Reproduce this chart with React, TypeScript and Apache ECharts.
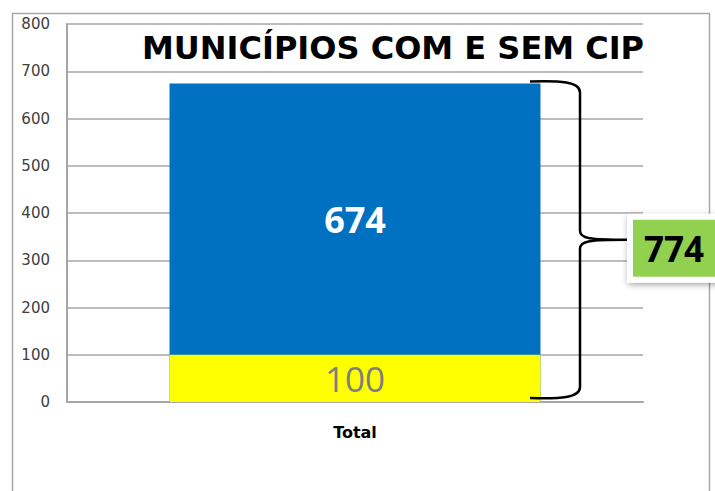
import React, { useEffect, useRef } from "react";
import * as echarts from "echarts";

const categories = ["Total"];
const comCip = [674];
const semCip = [100];
const titleText = "MUNICÍPIOS COM E SEM CIP";
const yMin = 0;
const yMax = 800;
const yStep = 100;

export default function App() {
  const ref = useRef<HTMLDivElement>(null);
  useEffect(() => {
    if (!ref.current) return;
    const chart = echarts.init(ref.current, null, { renderer: "svg" });
    const total = comCip[0] + semCip[0];
    const blueLabelFrac = ((comCip[0] - semCip[0]) / 2 / comCip[0]) * 100;
    const gridColor = "#a6a6a6";
    chart.setOption({
      animation: false,
      backgroundColor: "#ffffff",
      title: {
        text: titleText,
        left: 137,
        top: 27,
        textStyle: {
          fontFamily: "DejaVu Sans",
          fontWeight: "bold",
          fontSize: 32,
          color: "#000",
        },
      },
      grid: { left: 67, right: 72, top: 24, bottom: 89 },
      xAxis: {
        type: "category",
        data: categories,
        axisTick: { show: false },
        axisLine: { show: true, lineStyle: { color: gridColor, width: 2 } },
        axisLabel: {
          fontFamily: "DejaVu Sans",
          fontWeight: "bold",
          fontSize: 16,
          color: "#000",
          margin: 22,
        },
      },
      yAxis: {
        type: "value",
        min: yMin,
        max: yMax,
        interval: yStep,
        axisLine: { show: true, lineStyle: { color: gridColor, width: 2 } },
        axisTick: { show: false },
        splitLine: { lineStyle: { color: gridColor, width: 1.5 } },
        axisLabel: {
          fontFamily: "DejaVu Sans",
          fontSize: 15,
          color: "#404040",
          margin: 17,
        },
      },
      series: [
        {
          type: "bar",
          data: comCip,
          barWidth: "64.4%",
          barGap: "-100%",
          itemStyle: { color: "#0070C0" },
          label: {
            show: true,
            position: ["50%", blueLabelFrac + "%"],
            align: "center",
            verticalAlign: "middle",
            color: "#fff",
            fontFamily: "Open Sans",
            fontWeight: "bold",
            fontSize: 36,
          },
        },
        {
          type: "bar",
          data: semCip,
          barWidth: "64.4%",
          barGap: "-100%",
          itemStyle: { color: "#FFFF00" },
          label: {
            show: true,
            position: "inside",
            color: "#7f7f7f",
            fontFamily: "Open Sans",
            fontWeight: 500,
            fontSize: 35,
          },
        },
      ],
    });

    const t = chart.convertToPixel({ gridIndex: 0 }, [0, comCip[0]])[1] - 2;
    const b = chart.convertToPixel({ gridIndex: 0 }, [0, 0])[1] - 4;
    const m = (t + b) / 2;
    const d =
      `M530,${t} C560,${t - 1} 580,${t} 580,${t + 11} L580,${m - 9} ` +
      `C580,${m - 1} 590,${m} 627,${m} C590,${m} 580,${m + 1} 580,${m + 9} ` +
      `L580,${b - 11} C580,${b} 560,${b + 1} 530,${b}`;
    echarts.graphic.registerShape("brace", echarts.graphic.extendPath(d, {}));

    chart.setOption({
      graphic: [
        {
          type: "rect",
          z: -1,
          shape: { x: 12.5, y: 13.5, width: 697, height: 500 },
          style: { fill: "none", stroke: "#a6a6a6", lineWidth: 1.5 },
        },
        {
          type: "brace",
          z: 10,
          style: { fill: "none", stroke: "#000", lineWidth: 2.5 },
        },
        {
          type: "rect",
          z: 10,
          shape: { x: 627, y: m - 26, width: 100, height: 69 },
          style: {
            fill: "#fff",
            shadowBlur: 6,
            shadowColor: "rgba(0,0,0,0.35)",
            shadowOffsetX: 1,
            shadowOffsetY: 2,
          },
        },
        {
          type: "rect",
          z: 11,
          shape: { x: 633, y: m - 20, width: 90, height: 57 },
          style: { fill: "#92D050" },
        },
        {
          type: "text",
          z: 12,
          x: 674,
          y: m + 9,
          style: {
            text: String(total),
            fill: "#000",
            font: 'bold 35px "Open Sans"',
            textAlign: "center",
            textVerticalAlign: "middle",
            shadowBlur: 3,
            shadowColor: "rgba(0,0,0,0.55)",
            shadowOffsetX: 2,
            shadowOffsetY: 2,
          },
        },
      ],
    });
    return () => chart.dispose();
  }, []);
  return (
    <div
      ref={ref}
      style={{ position: "fixed", left: 0, top: 0, width: 715, height: 491 }}
    />
  );
}
